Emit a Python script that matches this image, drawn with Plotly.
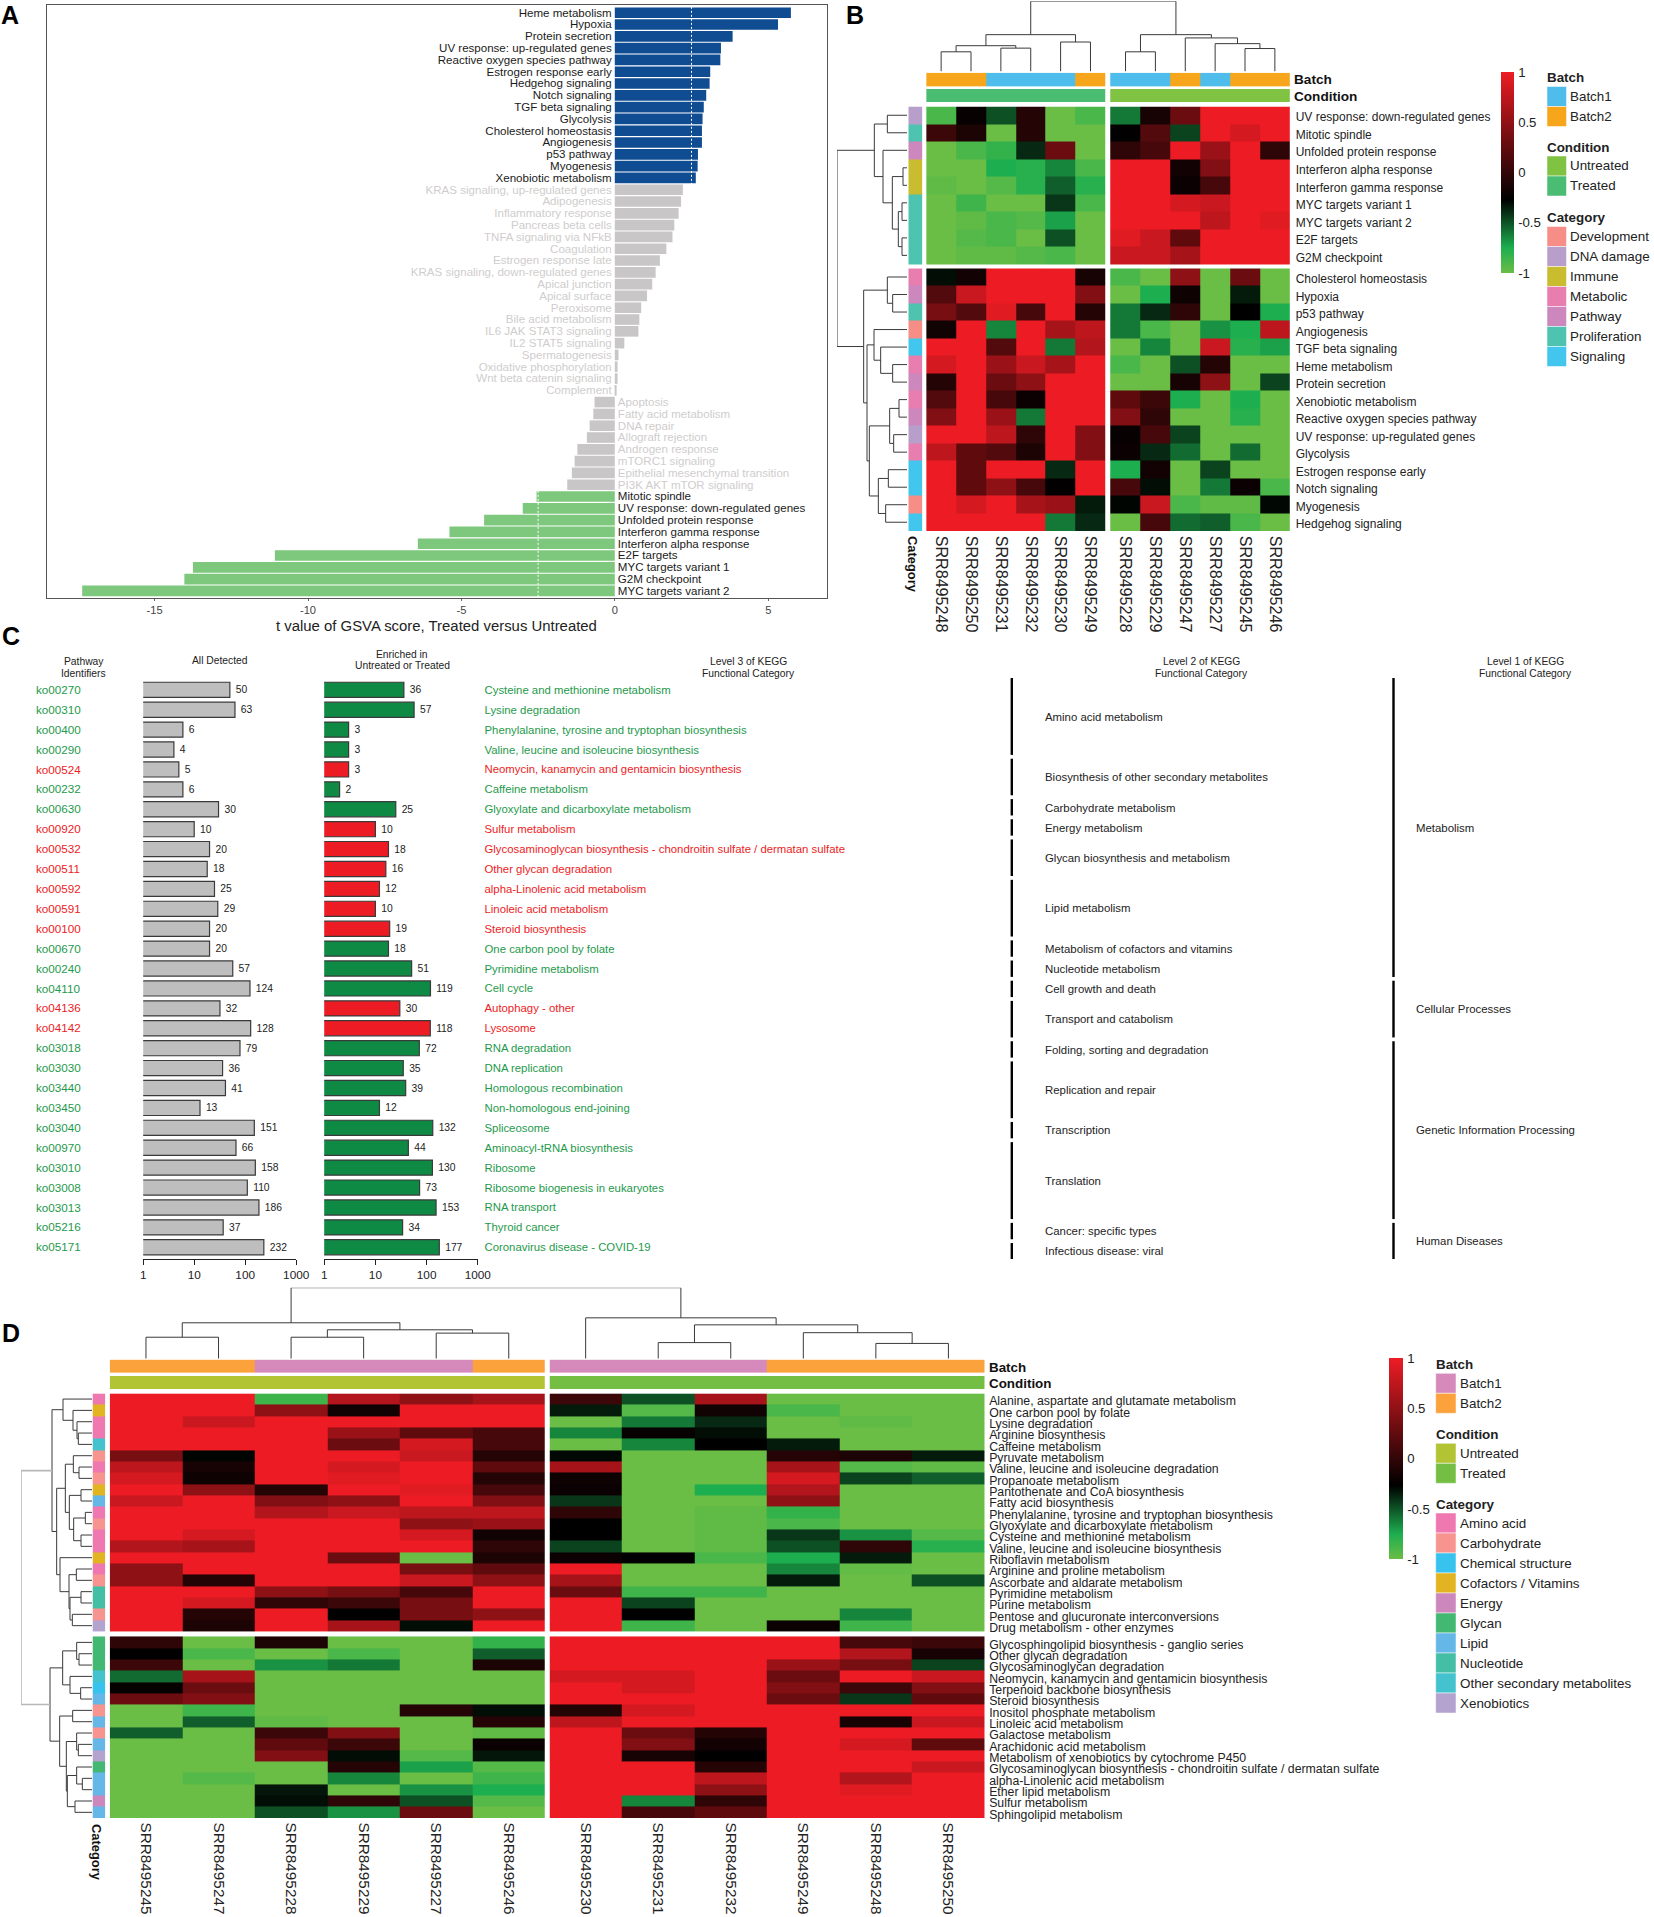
import numpy as np
import plotly.graph_objects as go

W, H = 1654, 1917
FONT = "Liberation Sans"

# ---------- Panel A ----------
A_NAMES = ["Heme metabolism","Hypoxia","Protein secretion","UV response: up-regulated genes","Reactive oxygen species pathway",
 "Estrogen response early","Hedgehog signaling","Notch signaling","TGF beta signaling","Glycolysis","Cholesterol homeostasis",
 "Angiogenesis","p53 pathway","Myogenesis","Xenobiotic metabolism","KRAS signaling, up-regulated genes","Adipogenesis",
 "Inflammatory response","Pancreas beta cells","TNFA signaling via NFkB","Coagulation","Estrogen response late",
 "KRAS signaling, down-regulated genes","Apical junction","Apical surface","Peroxisome","Bile acid metabolism",
 "IL6 JAK STAT3 signaling","IL2 STAT5 signaling","Spermatogenesis","Oxidative phosphorylation","Wnt beta catenin signaling",
 "Complement","Apoptosis","Fatty acid metabolism","DNA repair","Allograft rejection","Androgen response","mTORC1 signaling",
 "Epithelial mesenchymal transition","PI3K AKT mTOR signaling","Mitotic spindle","UV response: down-regulated genes",
 "Unfolded protein response","Interferon gamma response","Interferon alpha response","E2F targets","MYC targets variant 1",
 "G2M checkpoint","MYC targets variant 2"]
A_VALUES = [5.74,5.32,3.84,3.46,3.44,3.11,3.09,2.98,2.90,2.86,2.84,2.84,2.71,2.70,2.64,2.22,2.16,2.08,1.94,1.88,1.68,1.47,1.33,
 1.22,1.05,0.86,0.80,0.77,0.31,0.12,0.09,0.09,0.05,-0.66,-0.70,-0.82,-0.91,-1.22,-1.31,-1.40,-1.55,-2.55,-3.0,-4.26,-5.39,
 -6.42,-11.08,-13.75,-14.03,-17.36]
A_CUTOFF = 2.5

# ---------- Panel B ----------
B_SAMPLES = ["SRR8495248","SRR8495250","SRR8495231","SRR8495232","SRR8495230","SRR8495249",
             "SRR8495228","SRR8495229","SRR8495247","SRR8495227","SRR8495245","SRR8495246"]
B_ROWS = ["UV response: down-regulated genes","Mitotic spindle","Unfolded protein response","Interferon alpha response",
 "Interferon gamma response","MYC targets variant 1","MYC targets variant 2","E2F targets","G2M checkpoint",
 "Cholesterol homeostasis","Hypoxia","p53 pathway","Angiogenesis","TGF beta signaling","Heme metabolism","Protein secretion",
 "Xenobiotic metabolism","Reactive oxygen species pathway","UV response: up-regulated genes","Glycolysis",
 "Estrogen response early","Notch signaling","Myogenesis","Hedgehog signaling"]
# shade read from each cell: 0 = black, +1 = full red, -0.65 = vivid green, -1 = light green
B_SHADE = [
 [-0.85,0.03,-0.3,0.15,-1,-0.85,-0.45,0.1,0.45,1,1,1],
 [0.25,0.12,-1,0.15,-1,-1,0.01,0.35,-0.25,1,0.9,1],
 [-1,-0.85,-0.75,-0.15,0.45,-1,0.2,0.3,1,0.65,1,0.2],
 [-1,-1,-0.65,-0.7,-0.5,-0.85,1,1,0.08,0.55,1,1],
 [-0.95,-1,-0.9,-0.7,-0.35,-0.7,1,1,0.05,0.3,1,1],
 [-1,-0.8,-1,-1,-0.2,-0.85,1,1,0.9,0.85,1,1],
 [-1,-0.95,-0.85,-0.9,-0.6,-1,1,1,1,0.8,1,0.95],
 [-1,-0.9,-0.85,-1,-0.3,-1,0.95,0.85,0.4,1,1,1],
 [-1,-0.95,-0.95,-0.9,-0.85,-1,0.85,0.85,0.7,1,1,1],
 [-0.05,0.08,1,1,1,0.1,-0.85,-1,0.6,-1,0.45,-1],
 [0.35,0.85,1,1,1,0.55,-1,-0.65,0.06,-1,-0.1,-1],
 [0.5,0.35,0.95,0.3,1,0.15,-0.45,-0.15,0.2,-1,0,-0.65],
 [0.07,1,-0.5,1,0.7,0.8,-0.45,-0.85,-1,-0.55,-0.65,0.8],
 [1,1,0.35,1,-0.45,0.75,-1,-0.5,-1,0.85,-0.7,-0.6],
 [0.9,1,0.65,0.85,0.7,1,-0.85,-1,-0.3,0.15,-1,-1],
 [0.15,1,0.45,0.6,1,1,-1,-1,0.1,0.6,-1,-0.25],
 [0.35,1,0.3,0.05,1,1,0.4,0.25,-0.65,-1,-0.65,-1],
 [0.55,1,0.65,-0.45,1,1,0.55,0.2,-1,-1,-0.7,-1],
 [1,1,0.8,0.2,1,0.55,0.03,0.3,-0.25,-1,-1,-1],
 [0.8,0.4,0.35,0.12,1,0.55,0.05,-0.15,-0.4,-1,-0.4,-1],
 [1,0.4,1,1,-0.15,1,-0.65,0.08,-1,-0.25,-1,-1],
 [1,0.4,0.6,0.3,0.01,1,0.3,-0.05,-1,-0.45,0.05,-0.85],
 [1,0.9,1,0.7,0.65,-0.1,-0.02,0.85,-0.85,-0.95,-0.95,-0.03],
 [1,1,1,1,-0.45,-0.15,-1,0.3,-0.4,-0.35,-0.85,-1],
]
B_BATCH = [1,1,0,0,0,1,0,0,1,0,1,1]
B_CONDITION = [1,1,1,1,1,1,0,0,0,0,0,0]
B_BATCH_NAMES = ["Batch1","Batch2"]
B_BATCH_COLORS = ["#4FBDEB","#F7A51B"]
B_COND_NAMES = ["Untreated","Treated"]
B_COND_COLORS = ["#80C241","#4BBD73"]
B_CAT_NAMES = ["Development","DNA damage","Immune","Metabolic","Pathway","Proliferation","Signaling"]
B_CAT_COLORS = ["#F68E87","#B89FCB","#C9BC2E","#E87DB0","#CC88BC","#4DC3B0","#43C6EE"]
B_CATEGORY = [1,5,4,2,2,5,5,5,5,3,4,5,0,6,3,4,3,4,1,3,6,6,0,6]
B_COL_TREE = [(0,1,48),(2,3,57),(4,5,72),(12,13,63),(15,14,90),(6,7,48),(10,11,56),(9,18,68),(8,19,82),(17,20,90),(16,21,172)]
B_ROW_TREE = [(0,1,59),(3,4,12),(5,6,15),(7,8,15),(26,27,26),(25,28,44),(2,29,72),(24,30,98),(10,11,43),(9,32,59),(14,15,43),
 (13,34,79),(12,35,99),(16,17,24),(18,19,40),(37,38,52),(20,21,56),(22,23,64),(40,41,86),(39,42,113),(36,43,120),(33,44,130),(31,45,210)]

# ---------- Panel C ----------
C_IDS = ["ko00270","ko00310","ko00400","ko00290","ko00524","ko00232","ko00630","ko00920","ko00532","ko00511","ko00592","ko00591",
 "ko00100","ko00670","ko00240","ko04110","ko04136","ko04142","ko03018","ko03030","ko03440","ko03450","ko03040","ko00970",
 "ko03010","ko03008","ko03013","ko05216","ko05171"]
C_ALL = [50,63,6,4,5,6,30,10,20,18,25,29,20,20,57,124,32,128,79,36,41,13,151,66,158,110,186,37,232]
C_ENRICHED = [36,57,3,3,3,2,25,10,18,16,12,10,19,18,51,119,30,118,72,35,39,12,132,44,130,73,153,34,177]
C_UP = list("GGGGRGGRRRRRRGGGRRGGGGGGGGGGG")
C_LEVEL3 = ["Cysteine and methionine metabolism","Lysine degradation","Phenylalanine, tyrosine and tryptophan biosynthesis",
 "Valine, leucine and isoleucine biosynthesis","Neomycin, kanamycin and gentamicin biosynthesis","Caffeine metabolism",
 "Glyoxylate and dicarboxylate metabolism","Sulfur metabolism","Glycosaminoglycan biosynthesis - chondroitin sulfate / dermatan sulfate",
 "Other glycan degradation","alpha-Linolenic acid metabolism","Linoleic acid metabolism","Steroid biosynthesis","One carbon pool by folate",
 "Pyrimidine metabolism","Cell cycle","Autophagy - other","Lysosome","RNA degradation","DNA replication","Homologous recombination",
 "Non-homologous end-joining","Spliceosome","Aminoacyl-tRNA biosynthesis","Ribosome","Ribosome biogenesis in eukaryotes","RNA transport",
 "Thyroid cancer","Coronavirus disease - COVID-19"]
C_LEVEL2 = ["Amino acid metabolism","Biosynthesis of other secondary metabolites","Carbohydrate metabolism","Energy metabolism",
 "Glycan biosynthesis and metabolism","Lipid metabolism","Metabolism of cofactors and vitamins","Nucleotide metabolism",
 "Cell growth and death","Transport and catabolism","Folding, sorting and degradation","Replication and repair","Transcription",
 "Translation","Cancer: specific types","Infectious disease: viral"]
C_LEVEL2_ROWS = [4,2,1,1,2,3,1,1,1,2,1,3,1,4,1,1]
C_LEVEL1 = ["Metabolism","Cellular Processes","Genetic Information Processing","Human Diseases"]
C_LEVEL1_ROWS = [15,3,9,2]

# ---------- Panel D ----------
D_SAMPLES = ["SRR8495245","SRR8495247","SRR8495228","SRR8495229","SRR8495227","SRR8495246",
             "SRR8495230","SRR8495231","SRR8495232","SRR8495249","SRR8495248","SRR8495250"]
D_ROWS = ["Alanine, aspartate and glutamate metabolism","One carbon pool by folate","Lysine degradation","Arginine biosynthesis",
 "Caffeine metabolism","Pyruvate metabolism","Valine, leucine and isoleucine degradation","Propanoate metabolism",
 "Pantothenate and CoA biosynthesis","Fatty acid biosynthesis","Phenylalanine, tyrosine and tryptophan biosynthesis",
 "Glyoxylate and dicarboxylate metabolism","Cysteine and methionine metabolism","Valine, leucine and isoleucine biosynthesis",
 "Riboflavin metabolism","Arginine and proline metabolism","Ascorbate and aldarate metabolism","Pyrimidine metabolism","Purine metabolism",
 "Pentose and glucuronate interconversions","Drug metabolism - other enzymes","Glycosphingolipid biosynthesis - ganglio series",
 "Other glycan degradation","Glycosaminoglycan degradation","Neomycin, kanamycin and gentamicin biosynthesis",
 "Terpenoid backbone biosynthesis","Steroid biosynthesis","Inositol phosphate metabolism","Linoleic acid metabolism",
 "Galactose metabolism","Arachidonic acid metabolism","Metabolism of xenobiotics by cytochrome P450",
 "Glycosaminoglycan biosynthesis - chondroitin sulfate / dermatan sulfate","alpha-Linolenic acid metabolism","Ether lipid metabolism",
 "Sulfur metabolism","Sphingolipid metabolism"]
D_SHADE = [
 [1,1,-0.8,0.75,0.6,0.7,0.25,-0.3,0.7,-1,-1,-1],
 [1,1,0.6,0.07,1,1,-0.1,-0.9,0.07,-0.85,-1,-1],
 [1,0.85,1,1,1,1,-1,-0.45,-0.15,-1,-0.95,-1],
 [1,1,1,0.65,0.4,0.3,-0.5,0.03,-0.05,-1,-1,-1],
 [1,1,1,0.45,0.9,0.3,-1,-0.5,0.0,-0.1,-1,-1],
 [0.5,-0.02,1,1,0.85,0.15,-0.03,-1,-1,0.15,0.12,-0.1],
 [0.8,0.1,1,0.9,1,0.4,0.7,-1,-1,0.7,-0.9,-0.95],
 [0.9,0.06,1,0.95,1,0.15,0.06,-1,-1,0.9,-0.25,-0.35],
 [1,0.6,0.15,1,0.95,0.3,0.05,-1,-0.65,0.75,-1,-1],
 [0.85,1,0.55,0.6,1,0.55,-0.2,-1,-1,0.6,-1,-1],
 [1,1,0.75,0.85,0.8,0.8,0.2,-1,-0.95,-0.75,-1,-1],
 [1,1,1,1,0.6,0.65,0.0,-1,-0.95,-0.85,-1,-1],
 [1,0.9,1,1,0.9,0.07,0.0,-1,-0.95,-0.2,-0.55,-0.9],
 [0.75,0.7,1,1,1,0.2,-0.25,-1,-0.95,-0.3,0.2,-0.7],
 [1,1,1,0.45,-1,0.12,0.05,0.0,-0.85,-0.65,-0.1,-1],
 [0.6,1,1,1,0.5,0.4,1,-1,-1,-0.5,-0.97,-1],
 [0.6,0.15,1,1,0.85,0.6,0.7,-1,-1,-0.1,-1,-0.3],
 [1,1,0.6,0.5,0.3,1,0.45,-0.8,-0.8,-1,-1,-1],
 [1,0.9,0.2,0.25,0.5,1,1,-0.25,-1,-1,-1,-1],
 [1,0.15,1,0.0,0.5,0.6,1,0.0,-1,-1,-0.5,-1],
 [1,0.12,1,0.7,-0.05,1,1,-0.8,-1,0.05,-0.8,-1],
 [0.2,-1,0.12,-1,-1,-0.75,1,1,1,1,0.3,0.25],
 [0.0,-0.85,-1,-0.85,-1,-0.35,1,1,1,1,0.75,0.1],
 [0.25,-1,-0.55,-0.45,-1,0.12,1,1,1,0.65,0.5,-0.25],
 [-0.4,0.7,-1,-1,-1,-1,0.9,0.9,1,0.45,1,0.85],
 [0.02,0.45,-1,-1,-1,-1,1,0.9,1,0.55,0.25,0.55],
 [0.45,0.55,-1,-1,-1,-1,1,1,1,0.45,-0.2,0.4],
 [-1,-0.8,-1,-1,0.15,-0.05,0.15,0.9,1,1,1,1],
 [-1,-0.35,-0.95,-1,-1,0.15,0.8,1,1,1,0.1,0.85],
 [-0.35,-1,0.25,0.55,-1,-0.95,1,0.45,0.15,1,1,1],
 [-1,-1,0.4,0.25,-1,0.05,1,0.55,0.08,1,0.9,0.4],
 [-1,-1,0.55,-0.05,-0.9,-0.08,1,0.1,0.0,1,1,1],
 [-1,-1,-1,0.15,-0.6,-0.9,1,1,0.15,1,1,0.85],
 [-1,-0.9,-1,-0.5,-1,-0.8,1,1,0.8,1,0.75,1],
 [-1,-1,-0.08,-1,-0.55,-0.65,1,1,0.6,1,0.95,1],
 [-1,-1,-0.05,0.2,-0.3,-0.9,1,-0.5,0.2,1,1,1],
 [-1,-1,-0.3,-0.55,0.45,-1,1,0.3,0.4,1,1,1],
]
D_BATCH = [1,1,0,0,0,1,0,0,0,1,1,1]
D_CONDITION = [0,0,0,0,0,0,1,1,1,1,1,1]
D_BATCH_COLORS = ["#D68ABB","#FBA23C"]
D_COND_COLORS = ["#B2C433","#74BF43"]
D_CAT_NAMES = ["Amino acid","Carbohydrate","Chemical structure","Cofactors / Vitamins","Energy","Glycan","Lipid","Nucleotide",
               "Other secondary metabolites","Xenobiotics"]
D_CAT_COLORS = ["#F078B0","#F79490","#37C3EE","#E3B422","#CC87BC","#42B873","#65B7E7","#44BFA5","#44C3CF","#B4A2CF"]
D_CATEGORY = [0,3,0,0,8,1,0,1,3,6,0,1,0,0,3,0,1,7,7,1,9, 5,5,5,8,2,6,1,6,1,6,9,5,6,6,4,6]
D_COL_TREE = [(0,1,52),(2,3,52),(4,5,62),(13,14,70),(12,15,87),(7,8,39),(10,11,37),(9,18,63),(17,19,82),(6,20,99),(16,21,172)]
D_ROW_TREE = [(3,4,41),(2,37,45),(1,38,57),(0,39,87),(6,7,39),(5,41,56),(8,9,33),(10,11,20),(12,13,33),(44,45,55),(43,46,68),(42,47,80),
 (15,16,47),(17,18,33),(19,20,59),(50,51,66),(49,52,69),(14,53,96),(48,54,106),(40,55,120),(22,23,39),(21,57,46),(25,26,34),(24,59,66),
 (58,60,88),(27,28,58),(30,31,41),(29,63,46),(33,34,29),(32,65,46),(35,36,51),(66,67,74),(64,68,77),(62,69,97),(61,70,126),(56,71,213)]

# ---------- helpers ----------
COLORSCALE = [[0,"#6ABD45"],[0.125,"#1DAE4F"],[0.365,"#000000"],[1,"#ED1C24"]]
SHADE_PTS, SCORE_PTS = [-1,-0.65,0,1], [-1,-0.75,-0.27,1]
TEXT = "#222222"
CLEAR = "rgba(0,0,0,0)"

def dx(a,b): return [a/W, b/W]
def dy(top,bottom): return [1-bottom/H, 1-top/H]
def px(x): return x/W
def py(y): return 1-y/H

fig = go.Figure()
layout = {}
annotations, shapes = [], []

def xaxis(n, a, b, anchor, **kw):
    d = dict(domain=dx(a,b), anchor=anchor, visible=False, showgrid=False, zeroline=False, fixedrange=True)
    d.update(kw); layout["xaxis%d"%n if n>1 else "xaxis"] = d
def yaxis(n, top, bottom, anchor, **kw):
    d = dict(domain=dy(top,bottom), anchor=anchor, visible=False, showgrid=False, zeroline=False, fixedrange=True)
    d.update(kw); layout["yaxis%d"%n if n>1 else "yaxis"] = d

def note(x, y, text, size=12, color=TEXT, bold=False, xanchor="left", angle=0, yanchor="middle"):
    annotations.append(dict(xref="paper", yref="paper", x=px(x), y=py(y), text="<b>%s</b>"%text if bold else text,
        showarrow=False, xanchor=xanchor, yanchor=yanchor, textangle=angle, font=dict(size=size, color=color, family=FONT),
        borderpad=0, borderwidth=0))

def edges(n1, n2, gap):
    e = [float(i) for i in range(n1+1)] + [n1+gap+i for i in range(n2+1)]
    c = [i+0.5 for i in range(n1)] + [n1+gap+i+0.5 for i in range(n2)]
    return e, c

def discrete(colors):
    k = len(colors); out = []
    for i,c in enumerate(colors):
        out += [[i/k,c],[(i+1)/k,c]]
    return out

def tree_lines(tree, leaves):
    pos, ht = list(leaves), [0.0]*len(leaves)
    ps, hs = [], []
    for a,b,h in tree:
        ps += [pos[a],pos[a],pos[b],pos[b],None]
        hs += [ht[a],h,h,ht[b],None]
        pos.append((pos[a]+pos[b])/2); ht.append(h)
    return ps, hs

def heat_panel(shade, samples, rows, split_r, gap_r, gap_c, batch, cond, bcols, ccols, category, catcols, col_tree, row_tree,
               ax, x0, x1, y0, y1, bat_y, con_y, cat_x, coldend_y, rowdend_x, coloraxis, col_range, row_range, rowfont, light_root, lw, label_gap, sample_font):
    nr, nc = len(rows), len(samples)
    xe, xc = edges(6, 6, gap_c)
    ye, yc = edges(split_r, nr-split_r, gap_r)
    z = np.interp(np.array(shade, float), SHADE_PTS, SCORE_PTS)
    z = np.insert(z, split_r, np.nan, axis=0)
    z = np.insert(z, 6, np.nan, axis=1)
    zl = [[None if np.isnan(v) else float(v) for v in r] for r in z]
    xm, ym = ax, ax
    sx = lambda n: "x%d"%n
    sy = lambda n: "y%d"%n
    # main
    fig.add_trace(go.Heatmap(x=xe, y=ye, z=zl, coloraxis=coloraxis, xaxis=sx(xm), yaxis=sy(ym), hoverongaps=False))
    xaxis(xm, x0, x1, sy(ym), visible=True, range=[0,xe[-1]], tickmode="array", tickvals=xc, ticktext=samples, tickangle=90,
          ticks="outside", ticklen=0.5, tickcolor=CLEAR, showline=False, tickfont=dict(size=sample_font, color=TEXT, family=FONT))
    yaxis(ym, y0, y1, sx(xm), visible=True, side="right", range=[ye[-1],0], tickmode="array", tickvals=yc, ticktext=rows,
          ticks="outside", ticklen=label_gap, tickcolor=CLEAR, ticklabelshift=-2,
          showline=False, tickfont=dict(size=rowfont, color=TEXT, family=FONT))
    # batch + condition tracks
    for i,(vals,cols,(t,b)) in enumerate([(batch,bcols,bat_y),(cond,ccols,con_y)]):
        n = ym+1+i
        zt = [list(map(float,vals[:6]))+[None]+list(map(float,vals[6:]))]
        fig.add_trace(go.Heatmap(x=xe, y=[0,1], z=zt, zmin=-0.5, zmax=len(cols)-0.5, colorscale=discrete(cols), showscale=False,
                                 xaxis=sx(xm), yaxis=sy(n), hoverongaps=False))
        yaxis(n, t, b, sx(xm), range=[0,1])
    # category strip
    n = xm+1
    zc = [[float(v)] for v in category[:split_r]]+[[None]]+[[float(v)] for v in category[split_r:]]
    fig.add_trace(go.Heatmap(x=[0,1], y=ye, z=zc, zmin=-0.5, zmax=len(catcols)-0.5, colorscale=discrete(catcols), showscale=False,
                             xaxis=sx(n), yaxis=sy(ym), hoverongaps=False))
    xaxis(n, cat_x[0], cat_x[1], sy(ym), range=[0,1])
    # column dendrogram
    n = ym+3
    ps, hs = tree_lines(col_tree, xc)
    fig.add_trace(go.Scatter(x=ps, y=hs, mode="lines", line=dict(color="#3A3A3A", width=lw), xaxis=sx(xm), yaxis=sy(n), hoverinfo="skip", cliponaxis=False))
    yaxis(n, coldend_y[0], coldend_y[1], sx(xm), range=[0,col_range])
    # row dendrogram
    n = xm+2
    ps, hs = tree_lines(row_tree, yc)
    if light_root:
        fig.add_trace(go.Scatter(x=hs[:-5], y=ps[:-5], mode="lines", line=dict(color="#3A3A3A", width=lw), xaxis=sx(n), yaxis=sy(ym), hoverinfo="skip"))
        fig.add_trace(go.Scatter(x=hs[-5:], y=ps[-5:], mode="lines", line=dict(color="#B8B8B8", width=1.6), xaxis=sx(n), yaxis=sy(ym), hoverinfo="skip", cliponaxis=False))
    else:
        fig.add_trace(go.Scatter(x=hs, y=ps, mode="lines", line=dict(color="#3A3A3A", width=lw), xaxis=sx(n), yaxis=sy(ym), hoverinfo="skip", cliponaxis=False))
    xaxis(n, rowdend_x[0], rowdend_x[1], sy(ym), range=[row_range,0])

def legend(x, groups, swatch_w, size, text_x):
    for title, title_y, first_y, step, names, cols in groups:
        note(x, title_y, title, size=size, bold=True)
        for i,(nm,c) in enumerate(zip(names,cols)):
            shapes.append(dict(type="rect", xref="paper", yref="paper", x0=px(x), x1=px(x+swatch_w), y0=py(first_y+i*step), y1=py(first_y+(i+1)*step),
                               fillcolor=c, line=dict(width=0.5, color="#FFFFFF"), layer="above"))
            note(text_x, first_y+(i+0.5)*step, nm, size=size)

def colorbar(x, top, bottom, thick):
    return dict(x=px(x), xanchor="left", xref="paper", y=py(top), yanchor="top", yref="paper", len=bottom-top, lenmode="pixels", thickness=thick, thicknessmode="pixels",
                xpad=0, ypad=0, outlinewidth=0, ticks="outside", ticklen=2, tickcolor=CLEAR, tickmode="array", tickvals=[-1,-0.5,0,0.5,1], ticktext=["-1","-0.5","0","0.5","1"],
                tickfont=dict(size=13.2, color=TEXT, family=FONT))

# ---------- Panel A drawing ----------
acolors = ["#0F4C92"]*15 + ["#C8C6C6"]*26 + ["#7DC87C"]*9
aidx = list(range(len(A_NAMES)))
fig.add_trace(go.Bar(x=A_VALUES, y=aidx, orientation="h", marker=dict(color=acolors, line=dict(width=0)), width=0.9, xaxis="x", yaxis="y"))
fig.add_trace(go.Scatter(x=[A_CUTOFF,A_CUTOFF,None,-A_CUTOFF,-A_CUTOFF], y=[-0.5,49.5,None,-0.5,49.5], mode="lines",
                         line=dict(color="#FFFFFF", width=1, dash="2px,2px"), xaxis="x", yaxis="y", hoverinfo="skip"))
lab_colors = ["#1A1A1A"]*15 + ["#CFCDCD"]*26 + ["#1A1A1A"]*9
pos_i = [i for i,v in enumerate(A_VALUES) if v>0]
neg_i = [i for i,v in enumerate(A_VALUES) if v<0]
A_TEXT_DROP = 0.09
fig.add_trace(go.Scatter(x=[-0.1]*len(pos_i), y=[i+A_TEXT_DROP for i in pos_i], text=[A_NAMES[i] for i in pos_i], mode="text", textposition="middle left",
    textfont=dict(size=11.55, family=FONT, color=[lab_colors[i] for i in pos_i]), xaxis="x", yaxis="y", hoverinfo="skip"))
fig.add_trace(go.Scatter(x=[0.1]*len(neg_i), y=[i+A_TEXT_DROP for i in neg_i], text=[A_NAMES[i] for i in neg_i], mode="text", textposition="middle right",
    textfont=dict(size=11.55, family=FONT, color=[lab_colors[i] for i in neg_i]), xaxis="x", yaxis="y", hoverinfo="skip"))
xaxis(1, 46.6, 826.5, "y", visible=True, range=[-18.52,6.9], tickvals=[-15,-10,-5,0,5], ticktext=["-15","-10","-5","0","5"], ticks="outside", ticklen=2,
      tickcolor="#666666", tickfont=dict(size=11.1, color="#444444", family=FONT), showline=True, linecolor="#555555", linewidth=1, mirror=True)
yaxis(1, 5.3, 598, "x", visible=True, range=[49.6,-0.63], showticklabels=False, ticks="", showline=True, linecolor="#555555", linewidth=1, mirror=True)
note(436.5, 626, "t value of GSVA score, Treated versus Untreated", size=14.9, xanchor="center")

# ---------- Panel B drawing ----------
heat_panel(B_SHADE, B_SAMPLES, B_ROWS, 9, 0.234, 0.174, B_BATCH, B_CONDITION, B_BATCH_COLORS, B_COND_COLORS, B_CATEGORY, B_CAT_COLORS,
           B_COL_TREE, B_ROW_TREE, 2, 926.2, 1289.8, 106.5, 531, (72.7,86.5), (89,102), (908.3,922.5), (1.2,71.4), (837,907),
           "coloraxis", 172, 210, 12, False, 1.0, 2.5, 16.1)
note(1294, 79.5, "Batch", size=13.6, bold=True, color="#111111")
note(1294, 96, "Condition", size=13.6, bold=True, color="#111111")
note(913, 564, "Category", size=12.9, bold=True, angle=90, xanchor="center", color="#111111")
legend(1547, [("Batch",77.5,86.5,20,B_BATCH_NAMES,B_BATCH_COLORS),("Condition",147.5,156,20,B_COND_NAMES,B_COND_COLORS),
              ("Category",217,226.5,20,B_CAT_NAMES,B_CAT_COLORS)], 19.5, 13.4, 1570)

# ---------- Panel C drawing ----------
C_X0, C_STEP = 689.8, 19.91
C_TOP, C_BOTTOM = 670.0, 1259.0
c_y = list(range(len(C_IDS)))
c_range = [(C_BOTTOM-C_X0)/C_STEP, (C_TOP-C_X0)/C_STEP]
GREEN_T, RED_T, GREEN_B, RED_B = "#1E9A4B", "#ED1C24", "#0F8A45", "#ED1C24"
fig.add_trace(go.Bar(x=C_ALL, y=c_y, orientation="h", width=0.76, marker=dict(color="#BEBEBE", line=dict(color="#3A3A3A", width=1.2)),
    text=["\u00a0"+str(v) for v in C_ALL], textposition="outside", cliponaxis=False, constraintext="none", textfont=dict(size=10.3, color=TEXT, family=FONT), xaxis="x11", yaxis="y12"))
fig.add_trace(go.Bar(x=C_ENRICHED, y=c_y, orientation="h", width=0.76,
    marker=dict(color=[GREEN_B if u=="G" else RED_B for u in C_UP], line=dict(color="#3A3A3A", width=1.2)),
    text=["\u00a0"+str(v) for v in C_ENRICHED], textposition="outside", cliponaxis=False, constraintext="none", textfont=dict(size=10.3, color=TEXT, family=FONT), xaxis="x12", yaxis="y12"))
logaxis = dict(visible=True, type="log", range=[0,3], tickmode="array", tickvals=[1,10,100,1000], ticktext=["1","10","100","1000"], ticks="outside", ticklen=5,
               tickcolor="#222222", showline=True, linecolor="#222222", linewidth=1, tickfont=dict(size=11.8, color=TEXT, family=FONT))
xaxis(11, 143.2, 296.2, "y12", **logaxis)
xaxis(12, 324.2, 477.8, "y12", **logaxis)
xaxis(13, 0, W, "y12", range=[0,W])
yaxis(12, C_TOP, C_BOTTOM, "x11", range=c_range)
tcolors = [GREEN_T if u=="G" else RED_T for u in C_UP]
c_text_y = [i+0.06 for i in c_y]
fig.add_trace(go.Scatter(x=[36]*29, y=c_text_y, text=C_IDS, mode="text", textposition="middle right", textfont=dict(size=11.7, family=FONT, color=tcolors), xaxis="x13", yaxis="y12", hoverinfo="skip"))
fig.add_trace(go.Scatter(x=[484.5]*29, y=c_text_y, text=C_LEVEL3, mode="text", textposition="middle right", textfont=dict(size=11.37, family=FONT, color=tcolors), xaxis="x13", yaxis="y12", hoverinfo="skip"))
BRACKET_TOP, BRACKET_PITCH, BRACKET_GAP = 678.0, 20.18, 3.8
def brackets(names, counts, line_x, text_x):
    start = 0; xs, ys, tys = [], [], []
    for c in counts:
        a = (BRACKET_TOP+BRACKET_PITCH*start-C_X0)/C_STEP
        b = (BRACKET_TOP+BRACKET_PITCH*(start+c)-BRACKET_GAP-C_X0)/C_STEP
        xs += [line_x,line_x,None]; ys += [a,b,None]; tys.append((a+b)/2+0.07); start += c
    fig.add_trace(go.Scatter(x=xs, y=ys, mode="lines", line=dict(color="#000000", width=2.4), xaxis="x13", yaxis="y12", hoverinfo="skip"))
    fig.add_trace(go.Scatter(x=[text_x]*len(names), y=tys, text=names, mode="text", textposition="middle right",
                             textfont=dict(size=11.4, family=FONT, color=TEXT), xaxis="x13", yaxis="y12", hoverinfo="skip"))
brackets(C_LEVEL2, C_LEVEL2_ROWS, 1011.8, 1045)
brackets(C_LEVEL1, C_LEVEL1_ROWS, 1393.5, 1416)
for cx, lines in [(83.5,[("Pathway",661),("Identifiers",673)]),(219.5,[("All Detected",660)]),(402,[("Enriched in",654),("Untreated or Treated",665.5)]),
                  (748,[("Level 3 of KEGG",661),("Functional Category",673)]),(1201,[("Level 2 of KEGG",661),("Functional Category",673)]),
                  (1525.5,[("Level 1 of KEGG",661),("Functional Category",673)])]:
    for t,y in lines:
        note(cx, y, t, size=10.3, xanchor="center")

# ---------- Panel D drawing ----------
heat_panel(D_SHADE, D_SAMPLES, D_ROWS, 21, 0.476, 0.06, D_BATCH, D_CONDITION, D_BATCH_COLORS, D_COND_COLORS, D_CATEGORY, D_CAT_COLORS,
           D_COL_TREE, D_ROW_TREE, 20, 109.7, 984.7, 1393.4, 1818, (1359.6,1373), (1376,1389), (92.5,105.2), (1287.7,1358.7), (21,92),
           "coloraxis2", 172, 213, 12.3, True, 1.0, 1, 15.3)
note(989, 1367, "Batch", size=13.4, bold=True, color="#111111")
note(989, 1383, "Condition", size=13.4, bold=True, color="#111111")
note(97, 1852, "Category", size=12.9, bold=True, angle=90, xanchor="center", color="#111111")
legend(1435.7, [("Batch",1364,1373.3,20,B_BATCH_NAMES,D_BATCH_COLORS),("Condition",1434,1443.3,20,B_COND_NAMES,D_COND_COLORS),
                ("Category",1504,1513,20,D_CAT_NAMES,D_CAT_COLORS)], 20.3, 13.4, 1460)

# panel letters
for letter,x,y in [("A",10,15),("B",855,15),("C",11,636),("D",11,1333)]:
    note(x, y, letter, size=25, bold=True, color="#000000", xanchor="center")

layout.update(dict(width=W, height=H, margin=dict(l=0,r=0,t=0,b=0,autoexpand=False), paper_bgcolor="#FFFFFF", plot_bgcolor="rgba(0,0,0,0)", showlegend=False,
    annotations=annotations, shapes=shapes, font=dict(family=FONT), barmode="overlay",
    coloraxis=dict(colorscale=COLORSCALE, cmin=-1, cmax=1, colorbar=colorbar(1500.5,72,272.6,13.2)),
    coloraxis2=dict(colorscale=COLORSCALE, cmin=-1, cmax=1, colorbar=colorbar(1389,1358.3,1559.7,13.6))))
fig.update_layout(**layout)
fig.write_html("out.html", config={"displayModeBar":False}, post_script="document.body.style.margin='0';document.body.style.overflow='hidden';")
